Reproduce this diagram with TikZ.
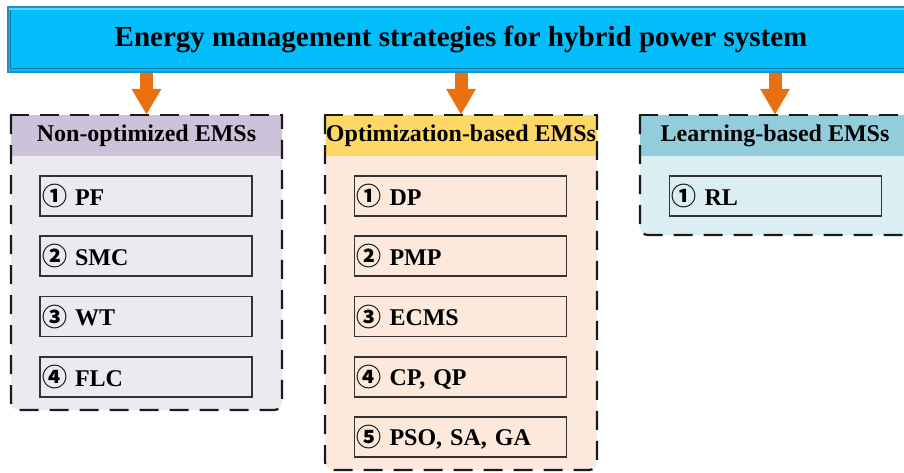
\documentclass[tikz,border=0pt]{standalone}
\usepackage{fontspec}
\setmainfont{Liberation Serif}
\newfontfamily\cjk{Noto Sans CJK SC}
\usetikzlibrary{arrows.meta}

\definecolor{bannerfill}{HTML}{04BEFC}
\definecolor{bannerline}{HTML}{2590C0}
\definecolor{bannerlight}{HTML}{5AD4FF}
\definecolor{bannerdark}{HTML}{1678A8}
\definecolor{arrowcol}{HTML}{E97011}
\definecolor{hdrA}{HTML}{CCC3DB}
\definecolor{bodyA}{HTML}{ECE9F1}
\definecolor{hdrB}{HTML}{FDD865}
\definecolor{bodyB}{HTML}{FCE9DC}
\definecolor{hdrC}{HTML}{93CDDC}
\definecolor{bodyC}{HTML}{DAEEF3}
\definecolor{itemline}{HTML}{333333}
\definecolor{grpline}{HTML}{1A1A1A}

% circled numbers
\newcommand{\cnum}[1]{{\cjk\bfseries\fontsize{25}{25}\selectfont\raisebox{-0.5pt}{#1}}}

\begin{document}
\begin{tikzpicture}[x=1pt,y=-1pt,
  banner/.style={draw=bannerline, line width=1.2pt, fill=bannerfill,
    minimum width=906pt, minimum height=65pt, inner sep=0pt,
    font=\fontsize{29}{29}\selectfont\bfseries},
  hdr/.style={minimum width=271pt, minimum height=41pt, inner sep=0pt,
    font=\fontsize{24}{24}\selectfont\bfseries},
  item/.style={draw=itemline, line width=1.1pt, minimum width=212pt,
    minimum height=40pt, inner xsep=2pt, inner ysep=0pt, text width=208pt,
    align=left, font=\fontsize{24}{24}\selectfont\bfseries},
  grp/.style={draw=grpline, line width=2.2pt, dash pattern=on 19pt off 11pt},
  fatarrow/.style={draw=arrowcol, line width=13pt,
    -{Triangle[width=28pt,length=26pt]}, arrowcol}
]
\useasboundingbox (0,0) rectangle (904,472);
\clip (0,0) rectangle (904,472);

% title banner with bevelled edges
\node[banner] (title) at (461,39.5) {Energy management strategies for hybrid power system};
\draw[bannerlight, line width=2.5pt] ([shift={(1.5,2.5)}]title.north west) -- ([shift={(-1.5,2.5)}]title.north east);
\draw[bannerdark, line width=1pt] ([shift={(3,4)}]title.north west) -- ([shift={(3,-4)}]title.south west) -- ([shift={(-3,-4)}]title.south east);

% group bodies
\fill[bodyA, rounded corners=8] (11,115) -- (11,410) -- (282,410) -- (282,115) -- cycle;
\fill[bodyB, rounded corners=8] (325,115) -- (325,470) -- (597,470) -- (597,115) -- cycle;
\fill[bodyC, rounded corners=8] (640,115) -- (640,235) -- (910,235) -- (910,115) -- cycle;

% group headers
\node[hdr, fill=hdrA] (h1) at (146.5,135.5) {Non-optimized EMSs};
\node[hdr, fill=hdrB] (h2) at (461,135.5) {Optimization-based EMSs};
\node[hdr, fill=hdrC, minimum width=270pt] (h3) at (775,135.5) {Learning-based EMSs};

% items: non-optimized
\node[item] (a1) at (146,196) {\cnum{①} PF};
\node[item] (a2) at (146,256) {\cnum{②} SMC};
\node[item] (a3) at (146,316.5) {\cnum{③} WT};
\node[item] (a4) at (146,377) {\cnum{④} FLC};

% items: optimization-based
\node[item] (b1) at (460.5,196) {\cnum{①} DP};
\node[item] (b2) at (460.5,256) {\cnum{②} PMP};
\node[item] (b3) at (460.5,316.5) {\cnum{③} ECMS};
\node[item] (b4) at (460.5,377) {\cnum{④} CP, QP};
\node[item] (b5) at (460.5,437) {\cnum{⑤} PSO, SA, GA};

% items: learning-based
\node[item] (c1) at (775.5,196) {\cnum{①} RL};

% dashed group outlines
\draw[grp] (10,115) -- (283,115);
\draw[grp, rounded corners=8] (11,115) -- (11,410) -- (282,410) -- (282,115);
\draw[grp] (324,115) -- (598,115);
\draw[grp, rounded corners=8] (325,115) -- (325,470) -- (597,470) -- (597,115);
\draw[grp] (639,115) -- (911,115);
\draw[grp, rounded corners=8] (640,115) -- (640,235) -- (910,235) -- (910,115);

% arrows from the title to each group
\draw[fatarrow] (title.south -| h1.north) -- (h1.north);
\draw[fatarrow] (title.south -| h2.north) -- (h2.north);
\draw[fatarrow] (title.south -| h3.north) -- (h3.north);
\end{tikzpicture}
\end{document}
